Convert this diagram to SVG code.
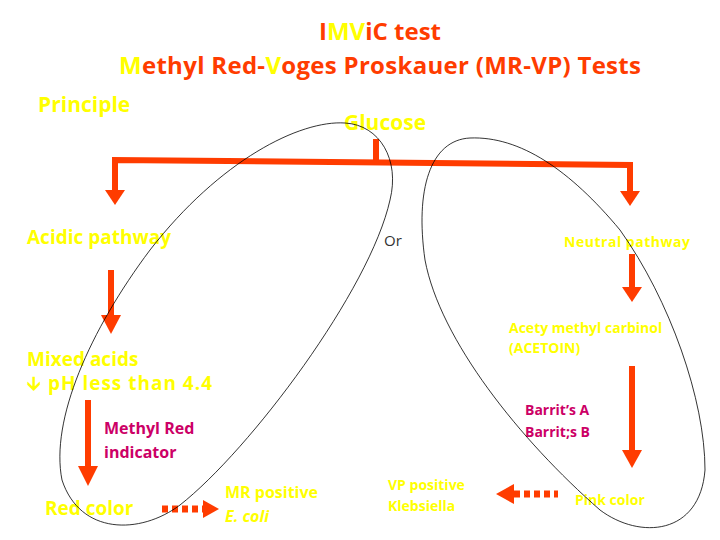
<svg xmlns="http://www.w3.org/2000/svg" width="720" height="540" viewBox="0 0 720 540">
<style>
text{font-family:"Open Sans","Liberation Sans",sans-serif;font-weight:bold}
.y{fill:#ffff00}.r{fill:#ff3c00}.m{fill:#cc0066}
.ln{stroke:#ff3c00;stroke-width:6;fill:none}
.ah{fill:#ff3c00}
.el{fill:none;stroke:#000;stroke-width:0.8}
</style>
<rect width="720" height="540" fill="#fff"/>
<g id="title">
<text x="380" y="40" font-size="24" text-anchor="middle"><tspan class="r">I</tspan><tspan class="y">MV</tspan><tspan class="r">i</tspan><tspan class="r">C test</tspan></text>
<text x="380" y="74" font-size="24" text-anchor="middle" textLength="522"><tspan class="y">M</tspan><tspan class="r">ethyl Red-</tspan><tspan class="y">V</tspan><tspan class="r">oges Proskauer (MR-VP) Tests</tspan></text>
<text x="38" y="112" font-size="21" class="y">Principle</text>
</g>
<g id="connectors">
<path class="ln" d="M376,139 V160"/>
<path class="ln" d="M115,197 V160 L630,165 V197"/>
<path class="ah" d="M105,190 L125,190 L115,205 Z"/>
<path class="ah" d="M620,191 L640,191 L630,206 Z"/>
<path class="ln" d="M111,270 V318"/>
<path class="ah" d="M101,315 L121,315 L111,334 Z"/>
<path class="ln" d="M632,254 V290"/>
<path class="ah" d="M622,287 L642,287 L632,302 Z"/>
<path class="ln" d="M88,400 V468"/>
<path class="ah" d="M78,466 L98,466 L88,486 Z"/>
<path class="ln" d="M632,366 V460"/>
<path class="ah" d="M622,450 L642,450 L632,468 Z"/>
<path d="M162,509 H203" stroke="#ff3c00" stroke-width="7" stroke-dasharray="6,4"/>
<path class="ah" d="M203,500 L219,509 L203,518 Z"/>
<path d="M514,494 H558" stroke="#ff3c00" stroke-width="7" stroke-dasharray="6,4"/>
<path class="ah" d="M514,484 L496,494 L514,504 Z"/>
</g>
<g id="glucose"><text x="344" y="130" font-size="21" class="y">Glucose</text></g>
<g id="acidic"><text x="27" y="244" font-size="19" class="y">Acidic pathway</text></g>
<g id="or"><text x="384" y="246" font-size="15" fill="#333" style="font-weight:normal">Or</text></g>
<g id="neutral"><text x="564" y="247" font-size="14" class="y" textLength="126">Neutral pathway</text></g>
<g id="acetoin"><text x="509" y="333" font-size="14" class="y">Acety methyl carbinol</text><text x="509" y="353" font-size="14" class="y">(ACETOIN)</text></g>
<g id="mixed"><text x="27" y="366" font-size="19" class="y">Mixed acids</text><text x="27" y="390" font-size="19" class="y" textLength="185">🡫 pH less  than 4.4</text></g>
<g id="barrit"><text x="525" y="415" font-size="14" class="m">Barrit’s A</text><text x="525" y="437" font-size="14" class="m">Barrit;s B</text></g>
<g id="mrind"><text x="104" y="434" font-size="16" class="m">Methyl Red</text><text x="104" y="458" font-size="16" class="m">indicator</text></g>
<g id="red"><text x="45" y="515" font-size="19" class="y">Red color</text></g>
<g id="mrpos"><text x="225" y="498" font-size="16" class="y">MR positive</text><text x="225" y="522" font-size="16" class="y" font-style="italic">E. coli</text></g>
<g id="vppos"><text x="388" y="490" font-size="14" class="y">VP positive</text><text x="388" y="511" font-size="14" class="y">Klebsiella</text></g>
<g id="pink"><text x="575" y="505" font-size="14" class="y">Pink color</text></g>
<g id="ellipses">
<path class="el" d="M345,123 C380,125 400,160 390,200 C370,290 250,450 180,505 C140,535 80,535 62,480 C50,420 90,330 150,250 C220,160 300,120 345,123 Z"/>
<path class="el" d="M470,138 C430,140 415,190 425,260 C440,340 520,440 600,510 C640,540 700,535 705,470 C705,400 670,300 620,230 C570,170 520,136 470,138 Z"/>
</g>
</svg>
